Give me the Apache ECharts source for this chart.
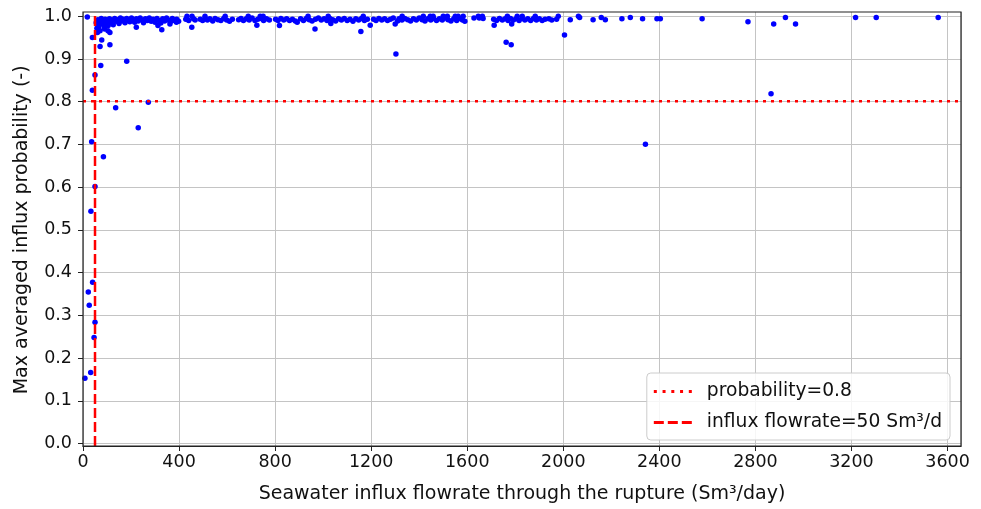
<!DOCTYPE html>
<html><head><meta charset="utf-8">
<script src="https://cdn.jsdelivr.net/npm/echarts@6/dist/echarts.min.js"></script>
<style>html,body{margin:0;padding:0;background:#fff}#c{width:981px;height:509px}</style>
</head><body><div id="c"></div>
<script>
// ---- data ----
const X_MIN = 0, X_MAX = 3656, Y_MIN = -0.01, Y_MAX = 1.01;
const xTickInterval = 400;
const yTickValues = [0.0, 0.1, 0.2, 0.3, 0.4, 0.5, 0.6, 0.7, 0.8, 0.9, 1.0];
const PROB_THRESHOLD = 0.8;
const FLOW_THRESHOLD = 50;
const probLabel = 'probability=0.8';
const flowLabel = 'influx flowrate=50 Sm\u00b3/d';

// low-flow scatter (x: flowrate Sm3/day, y: probability)
const lowFlowPoints = [
  [8,0.149],[32,0.163],[46,0.245],[50,0.281],[26,0.321],[22,0.352],[40,0.375],
  [33,0.542],[50,0.600],[85,0.670],[36,0.705],[230,0.738],[136,0.785],[272,0.798],
  [39,0.826],[50,0.862],[74,0.884],[182,0.894],[71,0.929],[112,0.933],[78,0.944],[39,0.950],
  [18,0.998]
];
// dense band near 1.0
const bandPoints = [
  [55,0.985],[58,0.972],[60,0.962],[62,0.992],[64,0.974],[66,0.978],[70,0.988],[71,0.966],[76,0.995],
  [80,0.982],[84,0.990],[88,0.975],[90,0.970],[92,0.993],[96,0.984],[100,0.990],[104,0.966],[105,0.978],
  [110,0.994],[112,0.962],[115,0.986],[120,0.991],[126,0.980],[132,0.995],[138,0.988],[144,0.992],
  [150,0.983],[156,0.996],[162,0.989],[168,0.993],[175,0.985],[182,0.995],[188,0.990],[195,0.987],
  [202,0.996],[208,0.991],[215,0.986],[222,0.974],[222,0.994],[230,0.989],[238,0.996],[245,0.991],
  [252,0.985],[260,0.994],[268,0.990],[276,0.996],[284,0.988],[292,0.993],[300,0.986],[308,0.995],
  [312,0.978],[316,0.990],[324,0.984],[328,0.968],[332,0.994],[340,0.989],[348,0.996],[356,0.991],
  [362,0.982],[364,0.987],[372,0.995],[380,0.990],[389,0.986],[390,0.993],[398,0.988],
  [428,0.993],[433,1.0],[440,0.990],[453,0.974],[454,1.0],[460,0.994],[467,0.991],
  [488,0.993],[498,0.990],[508,0.995],[508,1.0],[518,0.991],[528,0.994],[540,0.989],[550,0.995],
  [562,0.992],[574,0.990],[586,0.995],[592,1.0],[598,0.991],[610,0.988],[622,0.993],
  [648,0.992],[658,0.995],[668,0.990],[680,0.994],[688,1.0],[692,0.991],[704,0.996],[716,0.990],
  [724,0.979],[728,0.993],[738,1.0],[740,0.995],[750,1.0],[752,0.990],[764,0.994],[776,0.991],
  [802,0.993],[812,0.990],[818,0.978],[824,0.995],[836,0.991],[848,0.994],[860,0.990],[872,0.993],
  [884,0.989],[892,0.986],
  [906,0.994],[918,0.990],[930,0.995],[937,1.0],[942,0.992],[954,0.989],[966,0.970],[968,0.993],
  [980,0.996],[992,0.991],[1004,0.994],[1016,0.990],[1021,1.0],[1028,0.995],[1032,0.983],[1040,0.992],
  [1052,0.989],[1064,0.994],[1076,0.991],[1088,0.995],[1100,0.990],[1112,0.993],[1124,0.988],
  [1136,0.994],[1148,0.991],[1157,0.964],[1160,0.995],[1167,1.0],[1172,0.990],[1184,0.993],[1196,0.979],
  [1210,0.993],[1220,0.990],[1232,0.995],[1244,0.991],[1256,0.994],[1268,0.990],[1280,0.993],
  [1292,0.996],[1300,0.982],[1303,0.911],[1310,0.989],
  [1316,0.994],[1328,0.991],[1329,1.0],[1340,0.995],[1352,0.992],[1364,0.989],[1376,0.994],
  [1388,0.991],[1400,0.996],[1412,0.992],[1417,1.0],[1424,0.989],[1436,0.994],[1446,1.0],[1448,0.991],
  [1458,1.0],[1460,0.995],[1472,0.990],[1484,0.994],[1496,0.991],[1500,1.0],[1508,0.996],[1517,1.0],
  [1520,0.992],[1532,0.989],[1544,0.994],[1550,1.0],[1556,0.990],[1562,1.0],[1568,0.995],[1580,0.991],
  [1583,1.0],[1590,0.988],
  [1628,0.996],[1646,1.0],[1650,0.996],[1663,1.0],[1666,0.995],
  [1710,0.993],[1712,0.979],[1722,0.990],[1734,0.995],[1746,0.991],[1758,0.994],[1762,0.939],
  [1767,1.0],[1770,0.990],[1780,0.995],[1783,0.933],[1785,0.982],[1792,0.991],[1804,0.994],
  [1808,1.0],[1816,0.990],[1828,0.995],[1829,1.0],[1840,0.991],[1852,0.994],[1864,0.990],
  [1876,0.995],[1883,1.0],[1888,0.991],[1900,0.994],[1912,0.990],[1924,0.993],[1940,0.994],
  [1952,0.991],[1972,0.993],[1979,1.0]
];
// sparse high-flow points
const highFlowPoints = [
  [2005,0.956],[2029,0.992],[2063,1.0],[2068,0.997],[2124,0.992],[2158,0.997],[2175,0.992],
  [2244,0.994],[2279,0.997],[2330,0.994],[2342,0.699],[2390,0.994],[2404,0.994],[2578,0.994],
  [2769,0.987],[2865,0.818],[2876,0.982],[2925,0.997],[2967,0.982],[3217,0.997],[3303,0.997],[3561,0.997]
];

// ---- chart ----
const FONT = 'DejaVu Sans';
const TXT = '#111';
const GRID_COLOR = '#c4c4c4';
const allPoints = lowFlowPoints.concat(bandPoints, highFlowPoints);

const chart = echarts.init(document.getElementById('c'), null, {renderer: 'canvas'});
chart.setOption({
  animation: false,
  backgroundColor: '#fff',
  grid: [
    {left: 83, right: 20, top: 12, bottom: 61.2, show: true, borderColor: '#222', borderWidth: 1.2, backgroundColor: 'transparent', z: 5},
    {left: 83, right: 20, top: 16.25, bottom: 65.5, show: false}
  ],
  xAxis: [
    {
      gridIndex: 0, type: 'value', min: X_MIN, max: X_MAX, interval: xTickInterval,
      axisLine: {show: true, onZero: false, lineStyle: {color: '#222', width: 1.2}},
      axisTick: {show: true, inside: false, length: 5, lineStyle: {color: '#222', width: 1}},
      axisLabel: {show: true, margin: 7, fontFamily: FONT, fontSize: 17.5, color: TXT, showMaxLabel: false,
        formatter: v => (v % xTickInterval === 0 ? String(v) : '')},
      splitLine: {show: true, lineStyle: {color: GRID_COLOR, width: 1}},
      name: 'Seawater influx flowrate through the rupture (Sm\u00b3/day)',
      nameLocation: 'middle', nameGap: 39,
      nameTextStyle: {fontFamily: FONT, fontSize: 19, color: TXT}
    },
    {gridIndex: 1, type: 'value', min: X_MIN, max: X_MAX, show: false}
  ],
  yAxis: [
    {gridIndex: 0, type: 'value', min: Y_MIN, max: Y_MAX, show: false, splitLine: {show: false}},
    {
      gridIndex: 1, type: 'value', min: yTickValues[0], max: yTickValues[yTickValues.length - 1], interval: 0.1,
      axisLine: {show: false},
      axisTick: {show: true, inside: false, length: 5, lineStyle: {color: '#222', width: 1}},
      axisLabel: {margin: 11, fontFamily: FONT, fontSize: 17.5, color: TXT, formatter: v => v.toFixed(1)},
      splitLine: {show: true, lineStyle: {color: GRID_COLOR, width: 1}},
      name: 'Max averaged influx probability (-)',
      nameLocation: 'middle', nameGap: 51,
      nameTextStyle: {fontFamily: FONT, fontSize: 19, color: TXT}
    }
  ],
  legend: {
    orient: 'vertical', right: 31, top: 373,
    padding: [9, 8, 8, 7], itemGap: 12, itemWidth: 38, itemHeight: 3,
    backgroundColor: 'rgba(255,255,255,0.85)', borderColor: '#cccccc', borderWidth: 1, borderRadius: 4,
    textStyle: {fontFamily: FONT, fontSize: 18.7, color: TXT, padding: [0, 0, 0, 10]},
    data: [
      {name: probLabel, icon: 'path://M0,0h3v3h-3z M8.75,0h3v3h-3z M17.5,0h3v3h-3z M26.25,0h3v3h-3z M35,0h3v3h-3z', itemStyle: {color: '#ff0000', borderWidth: 0}},
      {name: flowLabel, icon: 'path://M0,0h10v3h-10z M14,0h10v3h-10z M28,0h10v3h-10z', itemStyle: {color: '#ff0000', borderWidth: 0}}
    ],
    selectedMode: false, z: 10
  },
  series: [
    {
      type: 'scatter', xAxisIndex: 0, yAxisIndex: 0, data: allPoints,
      symbol: 'circle', symbolSize: 5.5, itemStyle: {color: '#0000ff', opacity: 1}, silent: true, z: 3
    },
    {
      name: probLabel, type: 'line', xAxisIndex: 0, yAxisIndex: 0,
      data: [[X_MIN, PROB_THRESHOLD], [X_MAX, PROB_THRESHOLD]],
      symbol: 'none', color: '#ff0000', silent: true, z: 4,
      lineStyle: {color: '#ff0000', width: 2.5, type: [3, 5], cap: 'butt'}
    },
    {
      name: flowLabel, type: 'line', xAxisIndex: 0, yAxisIndex: 0,
      data: [[FLOW_THRESHOLD, Y_MIN], [FLOW_THRESHOLD, Y_MAX]],
      symbol: 'none', color: '#ff0000', silent: true, z: 4,
      lineStyle: {color: '#ff0000', width: 2.5, type: [10, 4], cap: 'butt'}
    }
  ]
});
</script>
</body></html>
